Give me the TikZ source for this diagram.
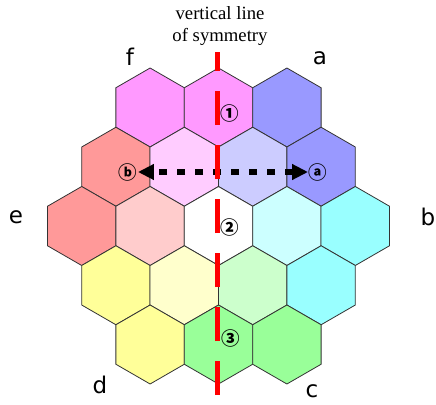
\documentclass[tikz,border=0pt]{standalone}
\usepackage{fontspec}
\setmainfont{Liberation Serif}
\newfontfamily\symfont{DejaVu Sans}
\newfontfamily\cjk{Noto Sans CJK KR}
\usetikzlibrary{arrows.meta, shapes.geometric}

\definecolor{hexpink}{HTML}{FF99FF}
\definecolor{hexpinkL}{HTML}{FFCCFF}
\definecolor{hexblue}{HTML}{9999FF}
\definecolor{hexblueL}{HTML}{CCCCFF}
\definecolor{hexred}{HTML}{FF9999}
\definecolor{hexredL}{HTML}{FFCCCC}
\definecolor{hexcyan}{HTML}{99FFFF}
\definecolor{hexcyanL}{HTML}{CCFFFF}
\definecolor{hexyellow}{HTML}{FFFF99}
\definecolor{hexyellowL}{HTML}{FFFFCC}
\definecolor{hexgreen}{HTML}{99FF99}
\definecolor{hexgreenL}{HTML}{CCFFCC}
\definecolor{symred}{HTML}{FF0000}

\begin{document}
\begin{tikzpicture}[
    x=1pt, y=-1pt,
    hex/.style      = {regular polygon, regular polygon sides=6, rotate=30,
                       minimum size=79pt, inner sep=0pt, draw=black!80,
                       line width=0.8pt, fill=#1},
    corner/.style   = {font=\symfont\fontsize{23}{23}\selectfont, inner sep=0pt},
    circled/.style  = {font=\cjk\bfseries\fontsize{18.5}{18.5}\selectfont, inner sep=0.5pt},
    dotarrow/.style = {{Triangle[length=16pt, width=15pt]}-{Triangle[length=16pt, width=15pt]},
                       line width=5.5pt, dash pattern=on 8pt off 10pt},
    symline/.style  = {symred, line width=5pt, dash pattern=on 34pt off 20pt},
]
\useasboundingbox (0,0) rectangle (436,404);

%% Top row
\node[hex=hexpink]    (h00) at (150.1,107.5) {};
\node[hex=hexpink]    (h01) at (218.5,107.5) {};
\node[hex=hexblue]    (h02) at (286.9,107.5) {};

%% Second row
\node[hex=hexred]     (h10) at (115.9,166.75) {};
\node[hex=hexpinkL]   (h11) at (184.3,166.75) {};
\node[hex=hexblueL]   (h12) at (252.7,166.75) {};
\node[hex=hexblue]    (h13) at (321.1,166.75) {};

%% Middle row
\node[hex=hexred]     (h20) at (81.7,226) {};
\node[hex=hexredL]    (h21) at (150.1,226) {};
\node[hex=white]      (h22) at (218.5,226) {};
\node[hex=hexcyanL]   (h23) at (286.9,226) {};
\node[hex=hexcyan]    (h24) at (355.3,226) {};

%% Fourth row
\node[hex=hexyellow]  (h30) at (115.9,285.25) {};
\node[hex=hexyellowL] (h31) at (184.3,285.25) {};
\node[hex=hexgreenL]  (h32) at (252.7,285.25) {};
\node[hex=hexcyan]    (h33) at (321.1,285.25) {};

%% Bottom row
\node[hex=hexyellow]  (h40) at (150.1,344.5) {};
\node[hex=hexgreen]   (h41) at (218.5,344.5) {};
\node[hex=hexgreen]   (h42) at (286.9,344.5) {};

%% Corner letters
\node[corner] (la) at (320,58)  {a};
\node[corner] (lb) at (428,217) {b};
\node[corner] (lc) at (312,391) {c};
\node[corner] (ld) at (100,385) {d};
\node[corner] (le) at (16,217)  {e};
\node[corner] (lf) at (130,57)  {f};

%% Title
\node[font=\fontsize{18.7}{22}\selectfont, align=center, inner sep=0pt]
    (title) at (220,26) {vertical line\\of symmetry};

%% Reflection arrow
\node[circled] (ma) at (318,172) {ⓐ};
\node[circled] (mb) at (128,172) {ⓑ};
\draw[dotarrow] (ma) -- (mb);

%% Numbered cells
\node[circled] (n1) at (230,113) {①};
\node[circled] (n2) at (230,227) {②};
\node[circled] (n3) at (231,338) {③};

%% Symmetry line
\coordinate (symbot) at (217.5,395);
\coordinate (symtop) at (217.5,52);
\draw[symline] (symbot) -- (symtop);

\end{tikzpicture}
\end{document}
